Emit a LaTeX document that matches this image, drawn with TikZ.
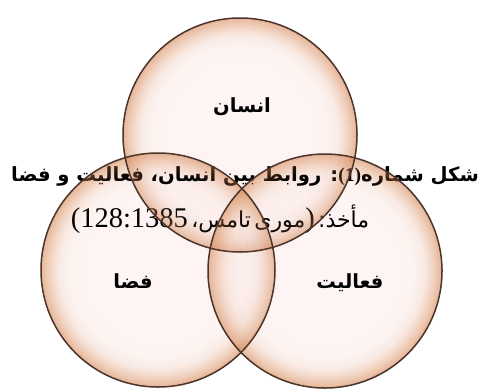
\documentclass[tikz,border=0pt]{standalone}
\usepackage{fontspec}
\newfontfamily\arfont[Script=Arabic]{DejaVu Sans}
\newfontfamily\tnrfont{Liberation Serif}
\TeXXeTstate=1
\definecolor{bin}{RGB}{252,238,236}
\definecolor{bmid}{RGB}{251,232,225}
\definecolor{bout}{RGB}{244,205,180}
\definecolor{ringc}{RGB}{208,128,78}
\definecolor{rimc}{RGB}{75,52,42}
\pgfdeclareradialshading{bubble}{\pgfpoint{0bp}{0bp}}{color(0bp)=(bin); color(16bp)=(bin); color(21bp)=(bmid); color(25bp)=(bout); color(50bp)=(bout)}
\tikzset{
  bubblefill/.style={circle, inner sep=0pt, minimum size=234pt, shading=bubble, fill opacity=0.6},
  bubbleline/.style={circle, inner sep=0pt, minimum size=234pt, draw=rimc, line width=1.5pt},
  lbl/.style={font=\arfont\bfseries\fontsize{19.5}{22}\selectfont, inner sep=0pt},
}
\begin{document}
\begin{tikzpicture}[x=1pt,y=-1pt]
\useasboundingbox (0,0) rectangle (478,389);
\fill[white] (0,0) rectangle (478,389);
% bubbles (base fill)
\node[bubblefill] (top) at (240,135) {};
\node[bubblefill] (left) at (158,270) {};
\node[bubblefill] (right) at (325,271) {};
% caption and source
\node[inner sep=0pt] (cap) at (245,176) {\fontsize{19.6}{22}\selectfont\beginR{\arfont\bfseries شکل شماره}{\tnrfont\bfseries (1)}{\arfont\bfseries : روابط بین انسان، فعالیت و فضا}\endR};
\node[inner sep=0pt] (src) at (220,219) {{\tnrfont\fontsize{28.5}{31}\selectfont(128:1385} {\arfont\fontsize{22}{26}\selectfont تامس،} {\arfont\fontsize{22}{26}\selectfont موری}{\tnrfont\fontsize{28.5}{31}\selectfont)} {\arfont\fontsize{22}{26}\selectfont مأخذ:}};
% soft rims over the text
\foreach \c in {top,left,right}{
  \foreach \r in {92,94,...,116}{
    \pgfmathsetmacro\op{0.015+0.38*((\r-92)/24)^2}
    \draw[draw=ringc, line width=2.1pt, draw opacity=\op] (\c.center) circle[radius=\r];
  }
}
\node[bubbleline] (topl) at (top.center) {};
\node[bubbleline] (leftl) at (left.center) {};
\node[bubbleline] (rightl) at (right.center) {};
% labels
\node[lbl] (ensan) at (242,107) {\beginR انسان\endR};
\node[lbl] (faza) at (133,281) {\beginR فضا\endR};
\node[lbl] (faal) at (350,283) {\beginR فعالیت\endR};
\end{tikzpicture}
\end{document}
